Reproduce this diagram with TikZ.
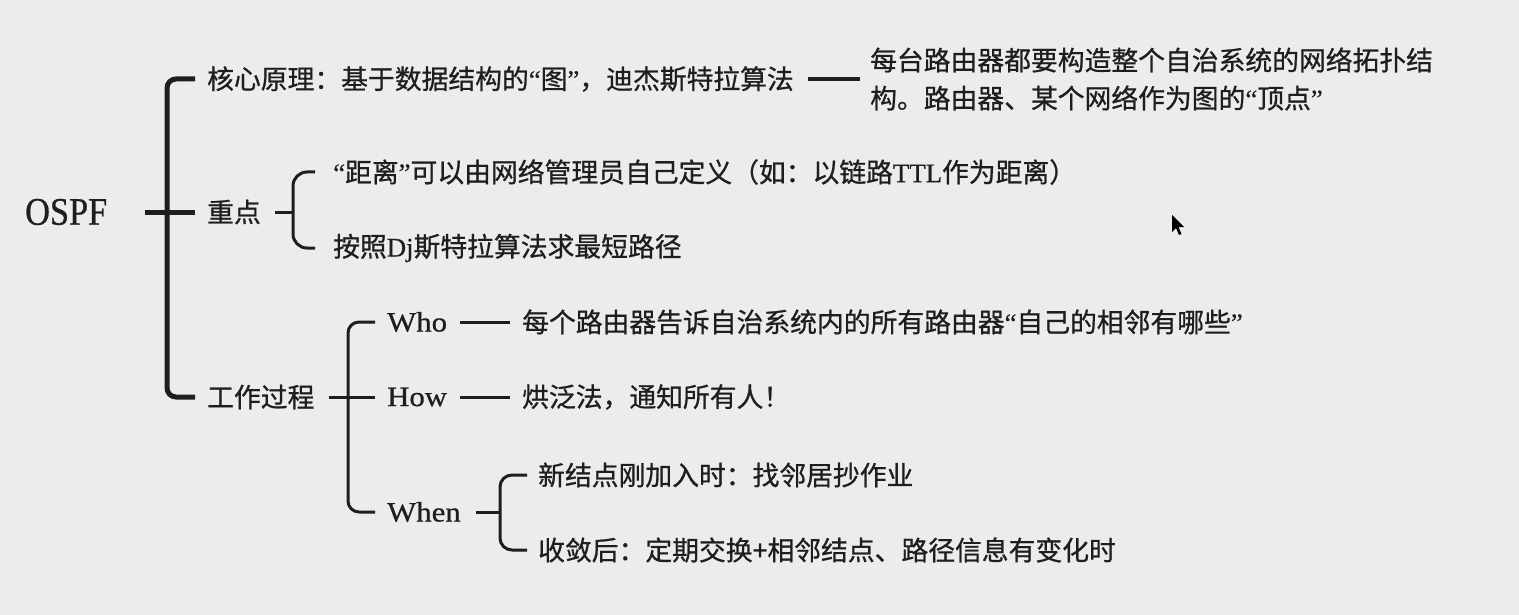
\documentclass[tikz,border=0pt]{standalone}
\usepackage{fontspec}
\setmainfont[FakeBold=0.6]{Liberation Serif}
\newfontfamily\cjk[FakeBold=0.8]{Noto Sans CJK SC}
\newfontfamily\latw[FakeStretch=1.1,FakeBold=0.6]{Liberation Serif}
\newfontfamily\latn[FakeStretch=0.88,FakeBold=0.7]{Liberation Serif}
\newcommand{\oq}{{\rmfamily “}}
\newcommand{\cq}{{\rmfamily ”}}
\definecolor{bg}{HTML}{ECECEC}
\definecolor{ink}{HTML}{1E1E1E}
\begin{document}
\begin{tikzpicture}[x=1pt,y=-1pt,
  txt/.style={anchor=west,inner sep=0pt,text=ink,font=\cjk\fontsize{26.8}{38}\selectfont},
  lat/.style={anchor=west,inner sep=0pt,text=ink,font=\latw\fontsize{28}{32}\selectfont},
  trunk/.style={draw=ink,line width=5pt,rounded corners=9pt},
  branch/.style={draw=ink,line width=3pt,rounded corners=14pt},
  link/.style={draw=ink,line width=3pt},
  biglink/.style={draw=ink,line width=4pt}]
\fill[bg] (0,0) rectangle (1519,615);
\useasboundingbox (0,0) rectangle (1519,615);
% root
\node[lat,font=\latn\fontsize{39}{44}\selectfont] (ospf) at (25,212) {OSPF};
% level 1
\node[txt] (core) at (207,79) {核心原理：基于数据结构的\oq 图\cq ，迪杰斯特拉算法};
\node[txt] (zd) at (207,212) {重点};
\node[txt] (gc) at (207,397) {工作过程};
% core detail
\node[txt,align=left] (r1) at (870,79) {每台路由器都要构造整个自治系统的网络拓扑结\\构。路由器、某个网络作为图的\oq 顶点\cq};
% key points
\node[txt] (d1) at (333,172) {\oq 距离\cq 可以由网络管理员自己定义（如：以链路{\rmfamily TTL}作为距离）};
\node[txt] (d2) at (333,248) {按照{\rmfamily Dj}斯特拉算法求最短路径};
% process
\node[lat] (who) at (387,322) {Who};
\node[lat] (how) at (387,397) {How};
\node[lat] (when) at (387,512) {When};
\node[txt] (whoT) at (522,322) {每个路由器告诉自治系统内的所有路由器\oq 自己的相邻有哪些\cq};
\node[txt] (howT) at (522,397) {烘泛法，通知所有人！};
\node[txt] (w1) at (538,475) {新结点刚加入时：找邻居抄作业};
\node[txt] (w2) at (538,550) {收敛后：定期交换+相邻结点、路径信息有变化时};
% junctions
\coordinate (jm) at (167,212);
\coordinate (jz) at (293,212);
\coordinate (jg) at (348,397);
\coordinate (jn) at (500,512);
% connectors
\draw[trunk] ([xshift=-12]core.west) -| (jm) |- ([xshift=-12]gc.west);
\draw[trunk,rounded corners=0pt] ([xshift=-22]jm) -- ([xshift=-12]zd.west);
\draw[biglink] ([xshift=-62]r1.west) -- ([xshift=-10]r1.west);
\draw[branch] ([xshift=-18]d1.west) -| (jz) |- ([xshift=-18]d2.west);
\draw[link] ([xshift=14]zd.east) -- (jz);
\draw[branch,rounded corners=11pt] ([xshift=-12]who.west) -| (jg) |- ([xshift=-12]when.west);
\draw[link] ([xshift=14]gc.east) -- ([xshift=-12]how.west);
\draw[link] ([xshift=-62]whoT.west) -- ([xshift=-12]whoT.west);
\draw[link] ([xshift=-62]howT.west) -- ([xshift=-12]howT.west);
\draw[branch,rounded corners=12pt] ([xshift=-11]w1.west) -| (jn) |- ([xshift=-11]w2.west);
\draw[link] ([xshift=15]when.east) -- (jn);
% mouse pointer
\fill[black] (1172,215) -- (1172,232) -- (1176,228) -- (1179,235) -- (1181.5,234) -- (1178.5,227) -- (1184,227) -- cycle;
\end{tikzpicture}
\end{document}
